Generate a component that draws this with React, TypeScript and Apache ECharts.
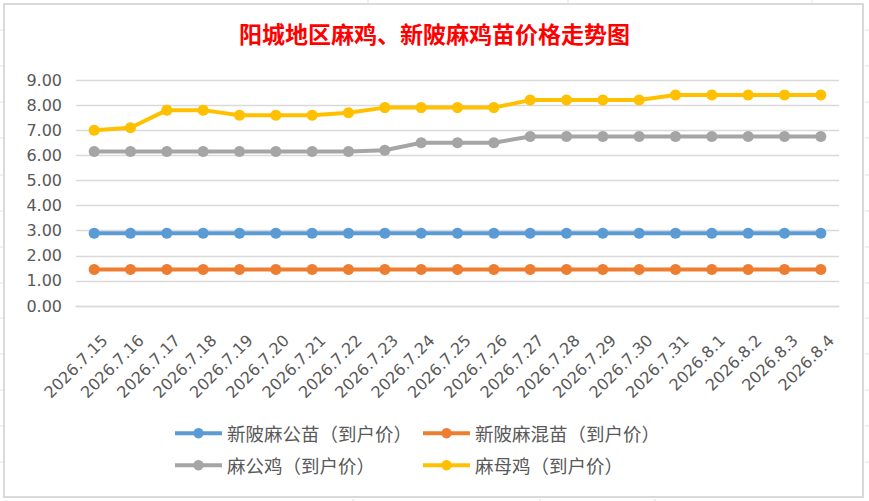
import React, { useEffect, useRef } from "react";
import * as echarts from "echarts";

const categories = [
  "2026.7.15", "2026.7.16", "2026.7.17", "2026.7.18", "2026.7.19", "2026.7.20", "2026.7.21",
  "2026.7.22", "2026.7.23", "2026.7.24", "2026.7.25", "2026.7.26", "2026.7.27", "2026.7.28",
  "2026.7.29", "2026.7.30", "2026.7.31", "2026.8.1", "2026.8.2", "2026.8.3", "2026.8.4",
];

const seriesNames = [
  "新陂麻公苗（到户价）",
  "新陂麻混苗（到户价）",
  "麻公鸡（到户价）",
  "麻母鸡（到户价）",
];

const maleChickValues = [
  2.9, 2.9, 2.9, 2.9, 2.9, 2.9, 2.9, 2.9, 2.9, 2.9, 2.9,
  2.9, 2.9, 2.9, 2.9, 2.9, 2.9, 2.9, 2.9, 2.9, 2.9,
];
const mixedChickValues = [
  1.45, 1.45, 1.45, 1.45, 1.45, 1.45, 1.45, 1.45, 1.45, 1.45, 1.45,
  1.45, 1.45, 1.45, 1.45, 1.45, 1.45, 1.45, 1.45, 1.45, 1.45,
];
const roosterValues = [
  6.15, 6.15, 6.15, 6.15, 6.15, 6.15, 6.15, 6.15, 6.2, 6.5, 6.5,
  6.5, 6.75, 6.75, 6.75, 6.75, 6.75, 6.75, 6.75, 6.75, 6.75,
];
const henValues = [
  7.0, 7.1, 7.8, 7.8, 7.6, 7.6, 7.6, 7.7, 7.9, 7.9, 7.9,
  7.9, 8.2, 8.2, 8.2, 8.2, 8.4, 8.4, 8.4, 8.4, 8.4,
];

const colors = ["#5b9bd5", "#ed7d31", "#a5a5a5", "#ffc000"];

export default function App() {
  const ref = useRef<HTMLDivElement>(null);

  useEffect(() => {
    if (!ref.current) return;
    const chart = echarts.init(ref.current, undefined, { renderer: "svg" });
    const valuesList = [maleChickValues, mixedChickValues, roosterValues, henValues];

    const legendCommon = {
      itemWidth: 47,
      itemHeight: 13,
      itemGap: 0,
      padding: 0,
      selectedMode: false,
      lineStyle: { width: 4 },
      textStyle: {
        fontSize: 18.5,
        color: "#595959",
        fontFamily: "'Noto Sans CJK SC', 'Noto Sans', sans-serif",
      },
    };

    const gridColor = "#d9d9d9";
    const sheetLines: any[] = [];
    [30, 66, 102, 138, 175, 211, 247, 283, 318, 354, 390, 426, 462].forEach((y) => {
      sheetLines.push({ type: "line", shape: { x1: 0, y1: y, x2: 3, y2: y }, style: { stroke: "#e3e3e3", lineWidth: 1 } });
      sheetLines.push({ type: "line", shape: { x1: 865, y1: y, x2: 869, y2: y }, style: { stroke: "#e3e3e3", lineWidth: 1 } });
    });
    [368, 568, 812].forEach((x) => {
      sheetLines.push({ type: "line", shape: { x1: x, y1: 0, x2: x, y2: 3 }, style: { stroke: "#e3e3e3", lineWidth: 1 } });
    });
    [353, 540, 655].forEach((x) => {
      sheetLines.push({ type: "line", shape: { x1: x, y1: 499, x2: x, y2: 501 }, style: { stroke: "#e3e3e3", lineWidth: 1 } });
    });

    chart.setOption({
      animation: false,
      backgroundColor: "#ffffff",
      color: colors,
      title: {
        text: "阳城地区麻鸡、新陂麻鸡苗价格走势图",
        left: "center",
        top: 21,
        padding: 0,
        textStyle: {
          color: "#ff0000",
          fontSize: 23,
          fontWeight: "bold",
          fontFamily: "'Noto Sans CJK SC', sans-serif",
        },
      },
      graphic: [
        {
          type: "rect",
          shape: { x: 4, y: 4, width: 859, height: 493 },
          style: { fill: "none", stroke: gridColor, lineWidth: 2 },
          silent: true,
        },
        ...sheetLines,
      ],
      legend: [
        { ...legendCommon, left: 173, top: 424, data: [seriesNames[0]] },
        { ...legendCommon, left: 421, top: 424, data: [seriesNames[1]] },
        { ...legendCommon, left: 173, top: 456, data: [seriesNames[2]] },
        { ...legendCommon, left: 421, top: 456, data: [seriesNames[3]] },
      ],
      grid: { left: 76, right: 30, top: 80, bottom: 195, containLabel: false },
      xAxis: {
        type: "category",
        data: categories,
        boundaryGap: true,
        axisLine: { lineStyle: { color: gridColor, width: 1.3 } },
        axisTick: { show: false },
        axisLabel: {
          interval: 0,
          rotate: 45,
          margin: 21,
          verticalAlign: "top",
          padding: [7, 0, 0, 0],
          fontSize: 16,
          color: "#595959",
          fontFamily: "'DejaVu Sans', sans-serif",
        },
      },
      yAxis: {
        type: "value",
        min: 0,
        max: 9,
        interval: 1,
        axisLine: { show: false },
        axisTick: { show: false },
        splitLine: { lineStyle: { color: gridColor, width: 1.3 } },
        axisLabel: {
          margin: 14,
          fontSize: 16,
          color: "#595959",
          fontFamily: "'DejaVu Sans', sans-serif",
          formatter: (v: number) => v.toFixed(2),
        },
      },
      series: seriesNames.map((name, i) => ({
        name,
        type: "line",
        data: valuesList[i],
        symbol: "circle",
        symbolSize: 11,
        lineStyle: { width: 4, color: colors[i] },
        itemStyle: { color: colors[i] },
        z: 2 + i,
      })),
    });

    return () => chart.dispose();
  }, []);

  return (
    <div
      ref={ref}
      style={{ position: "fixed", left: 0, top: 0, width: 869, height: 501, background: "#fff" }}
    />
  );
}
